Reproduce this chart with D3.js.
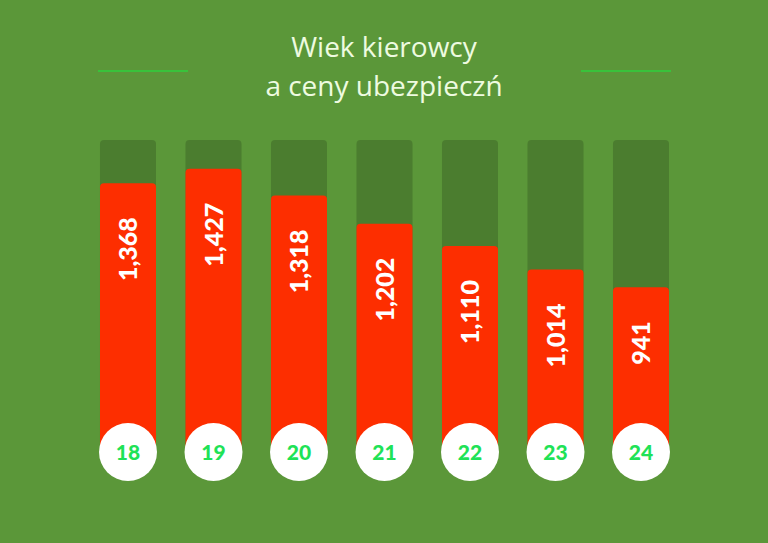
<!DOCTYPE html>
<html>
<head>
<meta charset="utf-8">
<script src="https://cdn.jsdelivr.net/npm/d3@7"></script>
<style>
  body { margin: 0; background: #5b9739; }
  svg { display: block; }
</style>
</head>
<body>
<script>
// Wiek kierowcy vs. cena ubezpieczenia
const width = 768, height = 543;

const ages = ["18", "19", "20", "21", "22", "23", "24"];
const prices = [1368, 1427, 1318, 1202, 1110, 1014, 941];
const titleLines = ["Wiek kierowcy", "a ceny ubezpieczń"];
const trackMax = 1545;   // height of the dark "track" behind each bar

const svg = d3.select("body").append("svg")
    .attr("width", width)
    .attr("height", height);

svg.append("rect")
    .attr("width", width)
    .attr("height", height)
    .attr("fill", "#5b9739");

// title + decorative lines
svg.selectAll(".title")
    .data(titleLines)
    .enter().append("text")
    .attr("class", "title")
    .attr("x", width / 2)
    .attr("y", (d, i) => 57 + i * 39)
    .attr("text-anchor", "middle")
    .style("font-family", "'Open Sans', sans-serif")
    .style("font-size", "28px")
    .style("fill", "#eefbe0")
    .text(d => d);

svg.selectAll(".deco")
    .data([[98, 188], [581, 671]])
    .enter().append("line")
    .attr("x1", d => d[0])
    .attr("x2", d => d[1])
    .attr("y1", 71)
    .attr("y2", 71)
    .style("stroke", "#2ed13c")
    .style("stroke-width", 1.5);

const x = d3.scaleBand()
    .domain(ages)
    .range([85.25, 683.75])
    .paddingInner(0.345)
    .paddingOuter(0.1725);

// hand-drawn infographic, so the scale is a rough fit of the picture
const y = d3.scaleLinear()
    .domain([900, 1450])
    .range([297.3, 163.2]);

const baseY = 452;
const r = 4;

const data = ages.map((a, i) => ({ age: a, value: prices[i] }));

// rounded-top bar path
function topRounded(x0, y0, w, h) {
    return `M${x0},${y0 + h}V${y0 + r}Q${x0},${y0} ${x0 + r},${y0}H${x0 + w - r}Q${x0 + w},${y0} ${x0 + w},${y0 + r}V${y0 + h}Z`;
}

svg.selectAll(".track")
    .data(data)
    .enter().append("path")
    .attr("class", "track")
    .attr("d", d => topRounded(x(d.age), y(trackMax), x.bandwidth(), baseY - y(trackMax)))
    .style("fill", "#4b7d2f");

svg.selectAll(".bar")
    .data(data)
    .enter().append("path")
    .attr("class", "bar")
    .attr("d", d => topRounded(x(d.age), y(d.value), x.bandwidth(), baseY - y(d.value)))
    .style("fill", "#fd2e00");

svg.selectAll(".value")
    .data(data)
    .enter().append("text")
    .attr("class", "value")
    .attr("transform", d => `translate(${x(d.age) + x.bandwidth() / 2},${y(d.value) + 34}) rotate(-90)`)
    .attr("text-anchor", "end")
    .attr("dy", "0.36em")
    .style("font-family", "Lato, sans-serif")
    .style("font-weight", 900)
    .style("font-size", "25px")
    .style("fill", "#ffffff")
    .text(d => d3.format(",")(d.value));

svg.selectAll(".dot")
    .data(data)
    .enter().append("circle")
    .attr("class", "dot")
    .attr("cx", d => x(d.age) + x.bandwidth() / 2)
    .attr("cy", baseY)
    .attr("r", 29)
    .style("fill", "#ffffff");

svg.selectAll(".age")
    .data(data)
    .enter().append("text")
    .attr("class", "age")
    .attr("x", d => x(d.age) + x.bandwidth() / 2)
    .attr("y", baseY)
    .attr("dy", "0.36em")
    .attr("text-anchor", "middle")
    .style("font-family", "Lato, sans-serif")
    .style("font-weight", 900)
    .style("font-size", "21px")
    .style("fill", "#1fe257")
    .text(d => d.age);
</script>
</body>
</html>
